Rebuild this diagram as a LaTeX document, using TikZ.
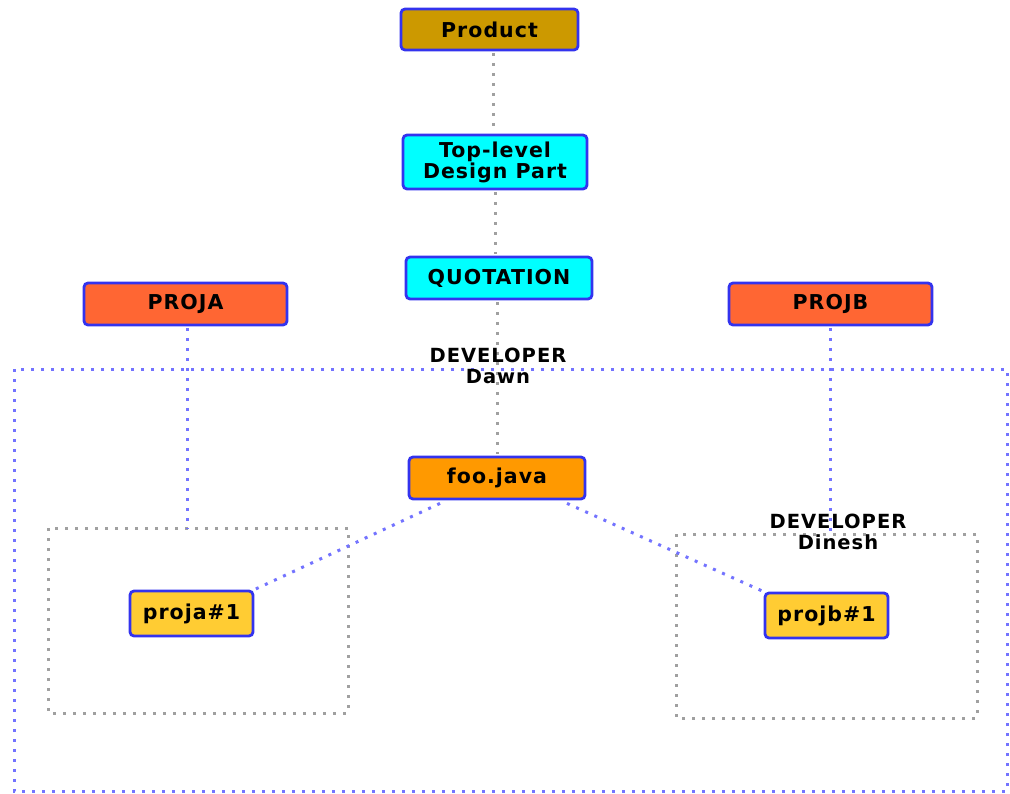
\documentclass[tikz,border=0pt]{standalone}
\usepackage{fontspec}
\setmainfont{DejaVu Sans}[LetterSpace=5]
\usetikzlibrary{calc}
\definecolor{prodfill}{HTML}{CC9900}
\definecolor{cyanfill}{HTML}{00FFFF}
\definecolor{projfill}{HTML}{FF6633}
\definecolor{foofill}{HTML}{FF9900}
\definecolor{pfill}{HTML}{FFCC33}
\definecolor{bord}{HTML}{3333EE}
\definecolor{graydot}{HTML}{A0A0A0}
\definecolor{bluedot}{HTML}{7373FF}
\tikzset{
  box/.style={draw=bord, line width=2.8pt, rounded corners=4pt, inner sep=0pt,
    font=\fontsize{20.5}{21}\selectfont\bfseries, align=center, text=black},
  gline/.style={draw=graydot, line width=3pt, dash pattern=on 3pt off 7pt},
  bline/.style={draw=bluedot, line width=3pt, dash pattern=on 3pt off 7pt},
  devlabel/.style={font=\fontsize{19.5}{21}\selectfont\bfseries, align=center, inner sep=0pt, text=black}
}
\begin{document}
\begin{tikzpicture}[x=1pt,y=-1pt]
\useasboundingbox (0,0) rectangle (1010,793);
% frames
\draw[bline] (14,369) rectangle (1007,791);
\draw[gline] (48,528) rectangle (348,713);
\draw[gline] (676,534) rectangle (977,718);
\coordinate (lt) at (187,528);
\coordinate (rt) at (830,532);
% nodes
\node[box, fill=prodfill, minimum width=177pt, minimum height=41pt] (prod) at (489.5,29.5) {Product};
\node[box, fill=cyanfill, minimum width=184pt, minimum height=54pt] (top) at (495,162) {Top-level\\Design Part};
\node[box, fill=cyanfill, minimum width=186pt, minimum height=42pt] (quot) at (499,278) {QUOTATION};
\node[box, fill=projfill, minimum width=203pt, minimum height=42pt] (proja) at (185.5,304) {PROJA};
\node[box, fill=projfill, minimum width=203pt, minimum height=42pt] (projb) at (830.5,304) {PROJB};
\node[box, fill=foofill, minimum width=176pt, minimum height=42pt] (foo) at (497,478) {foo.java};
\node[box, fill=pfill, minimum width=123pt, minimum height=45pt] (pa) at (191.5,613.5) {proja\#1};
\node[box, fill=pfill, minimum width=123pt, minimum height=45pt] (pb) at (826.5,615.5) {projb\#1};
% connectors
\draw[gline] ($(prod.south)+(3.5,1.5)$) -- ($(top.north)+(-2,-1.5)$);
\draw[gline] ($(top.south)+(0,1.5)$) -- ($(quot.north)+(-4,-1.5)$);
\draw[gline] ($(quot.south)+(-2,1.5)$) -- ($(foo.north)+(0,-1.5)$);
\draw[bline] ($(proja.south)+(1.5,1.5)$) -- (lt);
\draw[bline] ($(projb.south)+(-0.5,1.5)$) -- (rt);
\draw[bline] ($(foo.south)+(-57,3)$) -- (pa.north east);
\draw[bline] ($(foo.south)+(70,3)$) -- (pb.north west);
% labels
\node[devlabel] (dawn) at (498,366) {DEVELOPER\\Dawn};
\node[devlabel] (dinesh) at (838,532) {DEVELOPER\\Dinesh};
\end{tikzpicture}
\end{document}
